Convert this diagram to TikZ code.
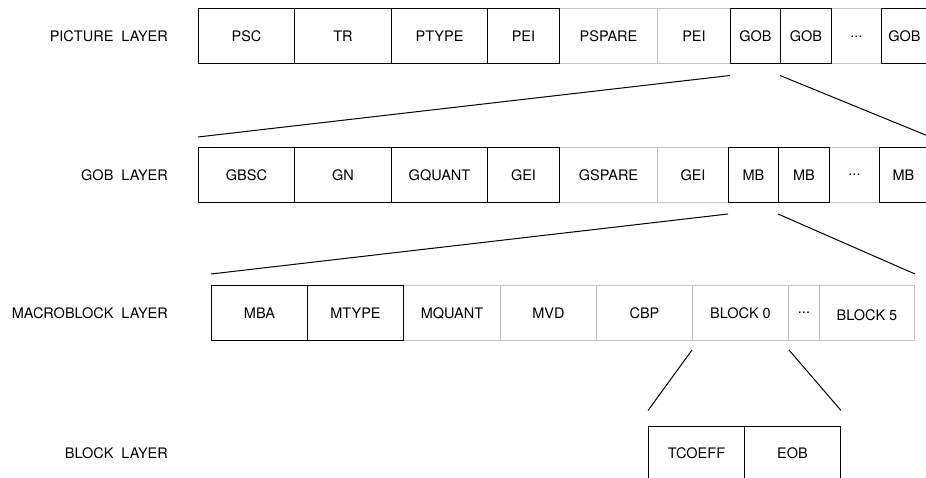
\documentclass[tikz,border=0pt]{standalone}
\usepackage{fontspec}
\setmainfont{TeX Gyre Heros}
\usepackage{tikz}
\usetikzlibrary{positioning}
\definecolor{rule}{RGB}{196,196,196}

\begin{document}
\begin{tikzpicture}[x=1pt,y=-1pt,
    every node/.style={font=\fontsize{14.5}{16}\selectfont,align=center},
    cell/.style={draw=black,line width=1pt,anchor=west,minimum height=55pt,inner sep=0pt},
    spare/.style={cell,draw=rule},
    layer/.style={anchor=east,inner sep=0pt}]
  \useasboundingbox (0,0) rectangle (926,478);
  % picture layer
  \node[spare,minimum width=98pt] (pspare) at (559,36.5) {PSPARE};
  \node[spare,minimum width=73pt] (peiB) at (657,36.5) {PEI};
  \node[spare,minimum width=50pt] (pdots) at (831,36.5) {...};
  \node[cell,minimum width=96pt] (psc) at (198,36.5) {PSC};
  \node[cell,minimum width=97pt] (tr) at (294,36.5) {TR};
  \node[cell,minimum width=96pt] (ptype) at (391,36.5) {PTYPE};
  \node[cell,minimum width=72pt] (peiA) at (487,36.5) {PEI};
  \node[cell,minimum width=50pt] (gobA) at (730,36.5) {GOB};
  \node[cell,minimum width=51pt] (gobB) at (780,36.5) {GOB};
  \node[cell,minimum width=46pt] (gobN) at (881,36.5) {GOB};
  % gob layer
  \node[spare,minimum width=98pt] (gspare) at (559,175) {GSPARE};
  \node[spare,minimum width=71pt] (geiB) at (657,175) {GEI};
  \node[spare,minimum width=50pt] (gdots) at (829,175) {...};
  \node[cell,minimum width=96pt] (gbsc) at (198,175) {GBSC};
  \node[cell,minimum width=97pt] (gn) at (294,175) {GN};
  \node[cell,minimum width=96pt] (gquant) at (391,175) {GQUANT};
  \node[cell,minimum width=72pt] (geiA) at (487,175) {GEI};
  \node[cell,minimum width=50pt] (mbA) at (728,175) {MB};
  \node[cell,minimum width=51pt] (mbB) at (778,175) {MB};
  \node[cell,minimum width=48pt] (mbN) at (879,175) {MB};
  % macroblock layer
  \node[spare,minimum width=97pt] (mquant) at (403,313) {MQUANT};
  \node[spare,minimum width=96pt] (mvd) at (500,313) {MVD};
  \node[spare,minimum width=96pt] (cbp) at (596,313) {CBP};
  \node[spare,minimum width=96pt] (blockA) at (692,313) {BLOCK 0};
  \node[spare,minimum width=31pt] (mdots) at (788,313) {...};
  \node[spare,minimum width=95pt,text height=16pt] (blockN) at (819,313) {BLOCK 5};
  \node[cell,minimum width=96pt] (mba) at (211,313) {MBA};
  \node[cell,minimum width=96pt] (mtype) at (307,313) {MTYPE};
  % block layer
  \node[cell,minimum width=96pt] (tcoeff) at (648,453.5) {TCOEFF};
  \node[cell,minimum width=96pt] (eob) at (744,453.5) {EOB};
  % layer names
  \node[layer,left=30pt of psc] (lpic) {PICTURE~~LAYER};
  \node[layer,left=30pt of gbsc] (lgob) {GOB~~LAYER};
  \node[layer,left=43pt of mba] (lmb) {MACROBLOCK~~LAYER};
  \node[layer,left=480pt of tcoeff] (lblk) {BLOCK~~LAYER};
  % zoom lines
  \draw[line width=1pt] ([yshift=-11pt]gobA.south west) -- ([yshift=10pt]gbsc.north west);
  \draw[line width=1pt] ([yshift=-11pt]gobB.south west) -- ([yshift=11pt]mbN.north east);
  \draw[line width=1pt] ([yshift=-11pt]mbA.south west) -- ([yshift=11pt]mba.north west);
  \draw[line width=1pt] ([yshift=-11pt]mbB.south west) -- ([yshift=11pt]blockN.north east);
  \draw[line width=1pt] ([yshift=-9pt]blockA.south west) -- ([yshift=15pt]tcoeff.north west);
  \draw[line width=1pt] ([yshift=-9pt]blockA.south east) -- ([yshift=15pt]eob.north east);
\end{tikzpicture}
\end{document}
